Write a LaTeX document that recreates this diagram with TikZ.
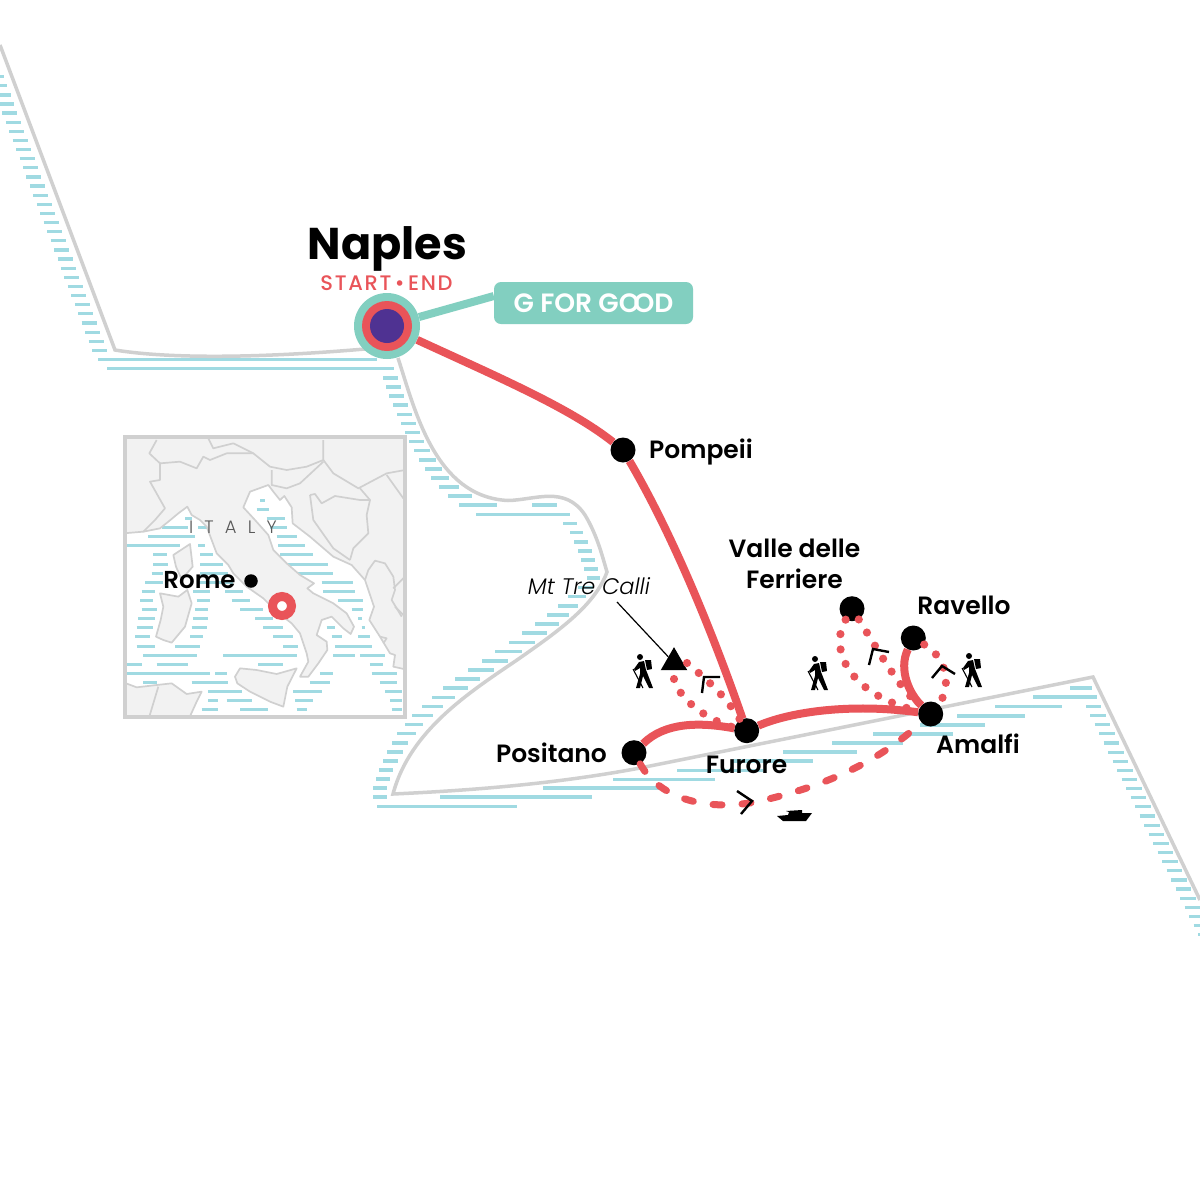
\documentclass[tikz,border=0pt]{standalone}
\usepackage{fontspec}
\usetikzlibrary{shapes.geometric}
\setmainfont{Poppins}
\newfontfamily\semi{Poppins SemiBold}
\newfontfamily\boldf{Poppins Bold}
\newfontfamily\medi[LetterSpace=8]{Poppins Medium}
\newfontfamily\lite[LetterSpace=62]{Poppins Light}
\newfontfamily\litei{Poppins Light Italic}
\definecolor{teal1}{HTML}{82CFC0}
\definecolor{red1}{HTML}{E95459}
\definecolor{purp}{HTML}{4F3292}
\definecolor{coast}{HTML}{D0D0D0}
\definecolor{water}{HTML}{A0DAE2}
\definecolor{land}{HTML}{F2F2F2}
\tikzset{
 coastline/.style={draw=coast,line width=3.5pt,line join=miter},
 hatchrow/.style={draw=water,line width=3.2pt},
 stop/.style={circle,fill=black,minimum size=25pt,inner sep=0pt},
 lab/.style={font=\semi\fontsize{25}{31.5}\selectfont,text=black,inner sep=0pt,align=center},
 route/.style={draw=red1,line width=8pt},
 dotty/.style={draw=red1,line width=8.2pt,line cap=round,dash pattern=on 0pt off 15.4pt},
 boatline/.style={draw=red1,line width=7pt,line cap=round,dash pattern=on 9pt off 20pt},
 chev/.style={draw=black,line width=2.4pt},
 landp/.style={fill=land,draw=coast,line width=1.7pt,line join=round},
 borderl/.style={draw=coast,line width=1.7pt,line join=round},
 hiker/.pic={
  \fill (-3,-14) circle (3);
  \fill (-4,-9) -- (1,-10) -- (3,-1) -- (5,4) -- (10,17) -- (6,17) -- (0,5) -- (-3,17) -- (-7,17) -- (-3,3) -- (-3,-3) -- (-8,0) -- (-9,-2) -- cycle;
  \fill (2,-11) -- (8,-11) -- (9,-2) -- (4,-1) -- cycle;
  \draw[line width=1.1pt] (-10,-2) -- (0,17);
 }
}
\begin{document}
\begin{tikzpicture}[x=1pt,y=-1pt]
\useasboundingbox (0,0) rectangle (1200,1200);
\fill[white] (0,0) rectangle (1200,1200);
% --- water hatching of the main map
\foreach \k in {0,...,26} \draw[hatchrow] ({2.3+3.45*\k},{113+9.13*\k}) -- ({17.3+3.45*\k},{113+9.13*\k});
\foreach \k in {0,...,23} \draw[hatchrow] ({1094.5+4.5*\k},{724.7+9.13*\k}) -- ({min(1200,1110+4.5*\k)},{724.7+9.13*\k});
\foreach \y/\a/\b in {76.5/0/3.5,85.7/0/7,94.9/0/10.5,104/0/14,359.5/98/377,368.5/107/394,378/383/398,387/386/401,396/389/404,405/393/408,414.3/397/412,423.3/401/416,432.7/405/420,441.7/409/424,450.7/414/430,460/419/436,469/425/442,478/431/449,487/439/459,496/448/472,505/459/497,505/532/557,514.3/476/570,523.7/563/577,532.7/570/583,542/574/588,551/578/592,560/581/595,569/584/598,578/587/600,587.7/578/593,596.7/568/586,606/558/578,615/547/569,624/535/559,633/522/547,642.7/509/535,651.7/495/522,661/482/508,670/468/494,679/455/480,688/443/468,697.3/432/455,706.7/422/443,715.7/412/433,724.7/405/423,733.7/397/416,743/392/408,752/387/403,761/383/398,770/379/393,779/376/390,788/373/387,797/373/387,806.7/377/517,797/440/592,788/543/660,779.7/613/715,770.7/677/763,761/733/813,752/783/857,743/832/903,734/873/953,725/920/985,716/957/1025,706.3/995/1062,697/1033/1097,688/1070/1092,706.3/1086/1101,715.3/1090/1106}
  \draw[hatchrow] (\a,\y) -- (\b,\y);
% --- coast lines
\draw[coastline] (0,45) -- (115,350) .. controls (170,359) and (260,358) .. (365,349);
\draw[coastline] (398,358) .. controls (415,410) and (435,497) .. (508,500.5)
  .. controls (535,500) and (565,485) .. (585,515) .. controls (597,535) and (602,555) .. (607,572)
  .. controls (595,605) and (560,630) .. (517,660) .. controls (470,692) and (410,730) .. (393,794)
  .. controls (480,790) and (560,783) .. (640,768) -- (1093,677) -- (1200,900);
% --- inset map
\fill[white] (125,437) rectangle (405,717);
\begin{scope}[shift={(100,420)},x=0.33333pt,y=-0.33333pt]
 \clip (75,52) rectangle (915,890);
 \foreach \y/\a/\b in {240/480/495,267/470/508,295/500/555,295/255/275,322/185/265,322/295/330,322/510/560,350/145/285,350/530/590,377/80/240,377/295/315,377/535/615,404/160/200,404/300/340,404/540/640,432/160/205,432/300/370,432/560/685,459/155/190,459/300/385,459/590/700,486/135/190,486/290/400,486/665/760,513/125/165,513/280/330,513/375/430,513/670/765,541/120/160,541/290/330,541/395/450,541/715/790,568/125/170,568/285/325,568/420/490,568/755/790,596/115/165,596/280/325,596/465/520,596/775/785,623/110/160,623/275/320,623/490/550,623/680/705,623/785/795,650/105/150,650/270/310,650/520/580,650/695/725,650/775/810,678/110/165,678/225/300,678/550/595,678/705/815,705/130/290,705/370/590,705/700/765,705/780/855,732/80/125,732/170/265,732/475/550,732/810/850,759/80/330,759/345/380,759/660/700,759/815/890,787/130/170,787/275/385,787/630/690,787/840/890,814/325/425,814/580/665,814/855/905,841/325/355,841/380/455,841/585/640,841/870/905,868/305/355,868/420/505,868/590/620,868/875/905}
   \draw[draw=water,line width=3pt] (\a,\y) -- (\b,\y);
 % mainland with Italy, Balkans
 \filldraw[landp] (70,340) -- (130,335) -- (180,325) -- (205,305) -- (235,280) -- (262,260) -- (275,285) -- (300,300) -- (320,320) -- (335,360) -- (350,400) -- (385,435) -- (400,460) -- (440,500) -- (490,535) -- (530,575) -- (575,610) -- (600,640) -- (620,700) -- (625,725) -- (600,770) -- (625,770) -- (655,730) -- (682,690) -- (680,665) -- (650,645) -- (665,600) -- (695,590) -- (730,625) -- (752,642) -- (762,620) -- (740,580) -- (700,550) -- (640,520) -- (622,505) -- (642,490) -- (600,465) -- (560,430) -- (520,390) -- (505,345) -- (465,300) -- (430,262) -- (450,215) -- (505,195) -- (520,215) -- (540,240) -- (553,228) -- (575,262) -- (578,310) -- (630,350) -- (700,410) -- (755,435) -- (795,480) -- (822,560) -- (808,600) -- (840,650) -- (870,700) -- (885,705) -- (880,740) -- (925,750) -- (925,40) -- (70,40) -- cycle;
 % Albania side
 \draw[borderl] (795,480) -- (805,450) -- (825,422) -- (855,430) -- (880,470) -- (885,510) -- (875,540) -- (905,590);
 \draw[borderl] (840,650) -- (860,655) -- (850,670);
 % Sicily
 \filldraw[landp] (405,770) -- (420,745) -- (470,750) -- (530,762) -- (590,745) -- (562,800) -- (550,860) -- (510,845) -- (450,815) -- (412,790) -- cycle;
 % Sardinia, Corsica
 \filldraw[landp] (180,520) -- (235,530) -- (262,510) -- (275,550) -- (255,620) -- (215,668) -- (190,660) -- (168,650) -- (182,600) -- (190,560) -- cycle;
 \filldraw[landp] (220,405) -- (270,372) -- (278,440) -- (245,478) -- (228,440) -- cycle;
 % Africa
 \filldraw[landp] (65,785) -- (110,802) -- (170,795) -- (215,790) -- (260,822) -- (305,815) -- (290,845) -- (265,900) -- (65,900) -- cycle;
 \draw[borderl] (148,890) -- (175,800);
 % borders
 \draw[borderl] (130,335) -- (165,300) -- (195,265) -- (150,185) -- (180,180) -- (180,130) -- (148,100) -- (170,60);
 \draw[borderl] (180,130) -- (240,125) -- (290,145) -- (310,110) -- (330,120) -- (380,100) -- (460,100) -- (510,140) -- (560,150) -- (620,140) -- (670,120) -- (670,60);
 \draw[borderl] (325,55) -- (340,85) -- (400,70) -- (460,100);
 \draw[borderl] (670,120) -- (700,160) -- (775,205) -- (860,160) -- (915,150);
 \draw[borderl] (515,150) -- (515,195) -- (560,205) -- (600,190) -- (670,125);
 \draw[borderl] (630,225) -- (645,222) -- (665,250) -- (705,228) -- (780,240) -- (810,240) -- (800,285) -- (805,340) -- (760,385) -- (750,420);
 \draw[borderl] (630,225) -- (640,300) -- (700,385) -- (750,420);
 \draw[borderl] (780,205) -- (810,240);
 \draw[borderl] (860,165) -- (910,235);
 \draw[borderl] (915,470) -- (880,505);
 \draw[borderl] (885,560) -- (915,590);
\end{scope}
\draw[draw=coast,line width=3.4pt] (125,437) rectangle (405,717);
\node[font=\lite\fontsize{18}{20}\selectfont,text=black!65,inner sep=0pt] (italy) at (233,527) {ITALY};
\node[font=\semi\fontsize{24.5}{28}\selectfont,inner sep=0pt] (rome) at (199.5,580) {Rome};
\node[circle,fill=black,minimum size=13.5pt,inner sep=0pt] (romedot) at (251,581) {};
\node[circle,draw=red1,line width=9pt,fill=white,minimum size=19pt,inner sep=0pt] (ring) at (282,606) {};
% --- stops
\node[circle,fill=teal1,minimum size=66pt,inner sep=0pt] (naples) at (387,326) {};
\node[circle,fill=red1,minimum size=50pt,inner sep=0pt] (naplesb) at (387,326) {};
\node[circle,fill=purp,minimum size=34pt,inner sep=0pt] (naplesc) at (387,326) {};
\node[stop] (pompeii) at (623,450) {};
\node[stop] (furore) at (746.7,730.7) {};
\node[stop] (positano) at (634,752.7) {};
\node[stop] (amalfi) at (930.7,714) {};
\node[stop] (ravello) at (913.3,638) {};
\node[stop] (valle) at (852,608.7) {};
\node[isosceles triangle,isosceles triangle apex angle=60,shape border rotate=90,fill=black,minimum height=23pt,minimum width=25pt,inner sep=0pt] (tri) at (674,662.5) {};
\coordinate (triR) at (687,663);
\coordinate (triB) at (674,679);
% --- G for good
\node[rounded corners=7pt,fill=teal1,minimum width=199pt,minimum height=42pt,inner sep=0pt,text=white,font=\semi\fontsize{26.5}{28}\selectfont] (good) at (593.5,303) {G FOR GO\kern-6pt OD};
\draw[draw=teal1,line width=8pt] (naples) -- (good.176);
% --- routes
\draw[route] (naples) .. controls (500,378) and (570,408) .. (pompeii);
\draw[route] (pompeii) .. controls (670,530) and (710,625) .. (furore);
\draw[route] (positano) .. controls (665,722) and (700,722) .. (furore);
\draw[route] (furore) .. controls (790,712) and (850,703) .. (amalfi);
\draw[route] (ravello) .. controls (898,670) and (910,695) .. (amalfi);
\draw[boatline] (positano) .. controls (660,800) and (710,812) .. (760,801) .. controls (830,785) and (880,760) .. (amalfi);
\draw[dotty] (triR) .. controls (705,678) and (725,695) .. (furore);
\draw[dotty] (triB) .. controls (680,702) and (712,722) .. (furore);
\draw[dotty] (valle) .. controls (828,650) and (850,695) .. (amalfi);
\draw[dotty] (valle) .. controls (875,645) and (900,690) .. (amalfi);
\draw[dotty] (ravello) .. controls (950,660) and (950,690) .. (amalfi);
% --- chevrons
\draw[chev] (702,693) -- (704,677) -- (720,677);
\draw[chev] (869,665) -- (873,649) -- (889,652);
\draw[chev] (932,678) -- (942,666) -- (955,674);
\draw[chev] (737,791) -- (752,801) -- (741,814);
% --- hikers
\pic[black] at (643,671) {hiker};
\pic[black] at (818,673) {hiker};
\pic[black] at (972,670) {hiker};
% --- boat
\fill[black] (777,816) -- (788,815) -- (789,812) -- (786,811) -- (802,810) -- (802,813) -- (812,813) -- (806,821) -- (783,821) -- cycle;
% --- labels
\node[font=\boldf\fontsize{44.5}{50}\selectfont,inner sep=0pt] (naplest) at (387.5,249) {Naples};
\node[font=\medi\fontsize{21}{22}\selectfont,text=red1,inner sep=0pt] (startend) at (386.5,283) {START\,•\,END};
\node[lab] (lpom) at (701,452) {Pompeii};
\node[lab] (lval) at (794.5,564) {Valle delle\\Ferriere};
\node[lab] (lrav) at (964,605) {Ravello};
\node[lab] (lama) at (978,743.5) {Amalfi};
\node[lab] (lfur) at (746.5,764.5) {Furore};
\node[lab] (lpos) at (551.5,753) {Positano};
\node[font=\litei\fontsize{22.5}{24}\selectfont,inner sep=0pt] (mt) at (589,586) {Mt Tre Calli};
\coordinate (mtfoot) at (617,602);
\draw[draw=black,line width=1.2pt] (mtfoot) -- (tri.north west);
\end{tikzpicture}
\end{document}
